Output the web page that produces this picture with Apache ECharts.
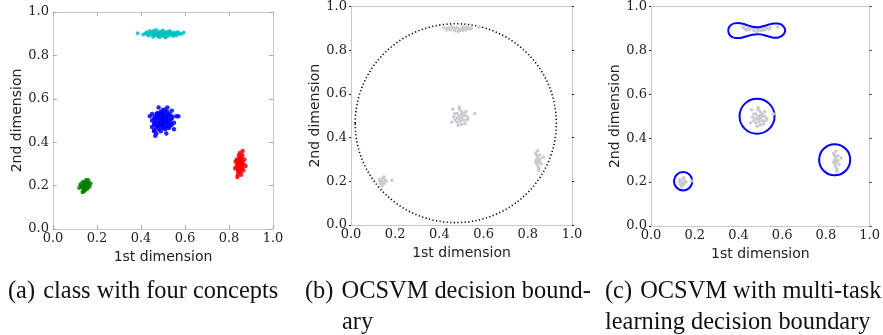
<!DOCTYPE html>
<html><head><meta charset="utf-8">
<script src="https://cdn.jsdelivr.net/npm/echarts@6/dist/echarts.min.js"></script>
<style>html,body{margin:0;padding:0;background:#fff}#c{width:883px;height:335px}</style>
</head><body><div id="c"></div>
<script>
// ---- data ----
const axisTicks = [0.0, 0.2, 0.4, 0.6, 0.8, 1.0];
const xTitle = '1st dimension';
const yTitle = '2nd dimension';
const captions = ['(a) \u200Aclass with four concepts', '(b) \u200AOCSVM decision bound-', 'ary', '(c) \u200AOCSVM with multi-task', 'learning decision boundary'];

const cyanPts = [[0.385,0.902],[0.41,0.896],[0.42,0.900],[0.43,0.897],[0.435,0.891],[0.44,0.903],[0.45,0.895],[0.45,0.906],[0.455,0.910],[0.46,0.899],[0.46,0.891],[0.465,0.902],[0.47,0.904],[0.47,0.896],[0.475,0.889],[0.48,0.909],[0.48,0.900],[0.48,0.892],[0.485,0.905],[0.49,0.903],[0.49,0.897],[0.49,0.888],[0.495,0.911],[0.50,0.906],[0.50,0.899],[0.50,0.893],[0.505,0.890],[0.51,0.902],[0.51,0.895],[0.515,0.907],[0.52,0.908],[0.52,0.899],[0.525,0.892],[0.53,0.903],[0.53,0.894],[0.535,0.909],[0.54,0.900],[0.545,0.897],[0.55,0.905],[0.55,0.896],[0.56,0.901],[0.565,0.908],[0.57,0.898],[0.575,0.903],[0.585,0.899],[0.595,0.906],
  [0.44,0.912],[0.46,0.914],[0.50,0.915],[0.53,0.913],[0.455,0.886],[0.485,0.884],[0.515,0.886],[0.545,0.889],[0.425,0.907],[0.56,0.892],[0.47,0.917],[0.51,0.883]];
const bluePts = [[0.50,0.50],[0.49,0.51],[0.51,0.49],[0.48,0.50],[0.52,0.51],[0.50,0.52],[0.49,0.48],[0.51,0.52],[0.47,0.49],[0.53,0.50],[0.50,0.47],[0.48,0.53],[0.52,0.48],[0.46,0.51],[0.54,0.52],[0.49,0.54],[0.51,0.46],[0.47,0.47],[0.53,0.47],[0.48,0.46],[0.52,0.54],[0.45,0.50],[0.55,0.49],[0.50,0.55],[0.46,0.48],[0.54,0.48],[0.47,0.53],[0.53,0.53],[0.49,0.45],[0.51,0.55],[0.46,0.45],[0.56,0.52],[0.44,0.52],[0.52,0.56],[0.48,0.56],[0.47,0.44],[0.55,0.46],[0.45,0.47],[0.50,0.53],[0.505,0.495],[0.495,0.505],[0.515,0.505],[0.485,0.495],[0.505,0.515],[0.495,0.485],[0.475,0.515],[0.525,0.495],[0.485,0.525],[0.515,0.475],[0.465,0.505],[0.535,0.505],[0.505,0.465],[0.495,0.535],[0.475,0.475],[0.525,0.525],[0.475,0.535],[0.525,0.465],[0.54,0.545],[0.46,0.455],[0.57,0.52],[0.45,0.53],[0.515,0.44],[0.465,0.43],
  [0.49,0.49],[0.51,0.51],[0.48,0.48],[0.52,0.52],[0.48,0.52],[0.52,0.49],[0.50,0.51],[0.50,0.485],[0.485,0.51],[0.515,0.49],[0.46,0.49],[0.54,0.51],[0.49,0.465],[0.51,0.535],[0.535,0.485],[0.465,0.52]];
const redPts = [[0.85,0.30],[0.845,0.31],[0.855,0.29],[0.84,0.30],[0.86,0.31],[0.85,0.32],[0.845,0.28],[0.855,0.33],[0.84,0.27],[0.86,0.28],[0.85,0.26],[0.845,0.34],[0.855,0.25],[0.835,0.32],[0.865,0.30],[0.85,0.35],[0.84,0.25],[0.86,0.34],[0.835,0.29],[0.865,0.27],[0.848,0.315],[0.852,0.285],[0.842,0.305],[0.858,0.295],[0.847,0.325],[0.853,0.275],[0.843,0.265],[0.857,0.335],[0.83,0.31],[0.87,0.32],[0.838,0.24],[0.862,0.36],[0.875,0.29],[0.828,0.28],
  [0.85,0.31],[0.85,0.29],[0.845,0.30],[0.855,0.305],[0.84,0.315],[0.86,0.295],[0.845,0.27],[0.855,0.32]];
const greenPts = [[0.145,0.20],[0.14,0.21],[0.15,0.19],[0.135,0.20],[0.155,0.21],[0.145,0.215],[0.14,0.185],[0.15,0.205],[0.13,0.195],[0.16,0.20],[0.145,0.18],[0.135,0.215],[0.155,0.185],[0.125,0.205],[0.165,0.195],[0.15,0.225],[0.14,0.175],[0.148,0.195],[0.142,0.205],[0.152,0.198],[0.138,0.192],[0.158,0.212],[0.12,0.19],[0.17,0.21],[0.135,0.17],[0.16,0.225],
  [0.145,0.19],[0.15,0.21],[0.14,0.20],[0.155,0.195]];

const grayPts = [[0.42,0.905],[0.43,0.898],[0.44,0.902],[0.45,0.894],[0.46,0.903],[0.47,0.897],[0.47,0.889],[0.48,0.904],[0.49,0.896],[0.49,0.890],[0.50,0.902],[0.51,0.897],[0.51,0.906],[0.52,0.893],[0.53,0.901],[0.54,0.897],[0.455,0.908],[0.485,0.886],[0.505,0.891],[0.525,0.905],[0.545,0.903],[0.435,0.893],[0.58,0.905],
  [0.46,0.53],[0.47,0.51],[0.48,0.49],[0.49,0.50],[0.50,0.52],[0.51,0.48],[0.52,0.50],[0.48,0.47],[0.50,0.46],[0.47,0.48],[0.49,0.53],[0.51,0.51],[0.53,0.49],[0.52,0.52],[0.50,0.49],[0.48,0.51],[0.495,0.475],[0.515,0.465],[0.465,0.495],[0.485,0.455],[0.49,0.54],[0.525,0.48],[0.56,0.51],[0.455,0.47],[0.50,0.505],[0.49,0.485],[0.51,0.50],
  [0.835,0.33],[0.845,0.31],[0.85,0.29],[0.84,0.28],[0.855,0.32],[0.845,0.27],[0.85,0.26],[0.84,0.30],[0.855,0.30],[0.835,0.29],[0.845,0.34],[0.86,0.28],[0.85,0.25],[0.84,0.32],[0.87,0.31],[0.845,0.295],
  [0.13,0.21],[0.14,0.20],[0.15,0.19],[0.145,0.215],[0.155,0.205],[0.135,0.19],[0.15,0.22],[0.14,0.18],[0.16,0.20],[0.13,0.20],[0.145,0.195],[0.185,0.205]];

// boundaries: [centre x, centre y, radius]
const ocsvmBoundary = [[0.474, 0.466, 0.455]];
const mtlCircles = [[0.147, 0.204, 0.042], [0.485, 0.500, 0.080], [0.840, 0.302, 0.071]];
const mtlPeanut = [[0.353,0.890],[0.356,0.904],[0.366,0.916],[0.382,0.923],[0.400,0.925],[0.420,0.921],[0.440,0.915],[0.460,0.909],[0.480,0.906],[0.500,0.907],[0.520,0.912],[0.540,0.918],[0.560,0.923],[0.578,0.923],[0.595,0.918],[0.607,0.907],[0.614,0.892],[0.609,0.877],[0.598,0.866],[0.582,0.859],[0.562,0.858],[0.542,0.862],[0.522,0.868],[0.502,0.873],[0.482,0.874],[0.462,0.871],[0.442,0.866],[0.422,0.860],[0.402,0.856],[0.384,0.857],[0.368,0.863],[0.357,0.875],[0.353,0.890]];

// ---- chart ----
const grids = [
  {left: 53, top: 12, width: 220, height: 217},
  {left: 351, top: 6, width: 221, height: 219},
  {left: 651, top: 6, width: 221, height: 220}
];
const tickFont = {fontFamily: '"DejaVu Serif", "Liberation Serif", serif', fontSize: 13, color: '#222'};
const nameFont = {fontFamily: '"DejaVu Sans", sans-serif', fontSize: 14, color: '#222'};
const fmt = v => v.toFixed(1);
const xAxes = [], yAxes = [];
grids.forEach((g, i) => {
  const inner = i === 0;
  const tickCol = inner ? '#aaa' : '#222';
  xAxes.push({gridIndex: i, type: 'value', min: axisTicks[0], max: axisTicks[axisTicks.length-1], interval: 0.2,
    name: xTitle, nameLocation: 'middle', nameGap: 21, nameTextStyle: nameFont,
    axisLine: {show: true, onZero: false, lineStyle: {color: '#c8c8c8', width: 1}},
    axisTick: {show: inner, inside: true, length: 4, lineStyle: {color: tickCol}},
    axisLabel: Object.assign({formatter: fmt, margin: 3}, tickFont), splitLine: {show: false}});
  xAxes.push({gridIndex: i, type: 'value', position: 'top', min: 0, max: 1, interval: 0.2,
    axisLine: {show: true, onZero: false, lineStyle: {color: '#c8c8c8', width: 1}},
    axisTick: {show: inner, inside: true, length: 4, lineStyle: {color: tickCol}},
    axisLabel: {show: false}, splitLine: {show: false}});
  yAxes.push({gridIndex: i, type: 'value', min: 0, max: 1, interval: 0.2,
    name: yTitle, nameLocation: 'middle', nameGap: 29, nameRotate: 90, nameTextStyle: nameFont,
    axisLine: {show: true, onZero: false, lineStyle: {color: '#c8c8c8', width: 1}},
    axisTick: {show: true, inside: inner, length: inner ? 4 : 2, lineStyle: {color: tickCol}},
    axisLabel: Object.assign({formatter: fmt, margin: 4}, tickFont), splitLine: {show: false}});
  yAxes.push({gridIndex: i, type: 'value', position: 'right', min: 0, max: 1, interval: 0.2,
    axisLine: {show: true, onZero: false, lineStyle: {color: '#c8c8c8', width: 1}},
    axisTick: {show: true, inside: inner, length: inner ? 4 : 2, lineStyle: {color: tickCol}},
    axisLabel: {show: false}, splitLine: {show: false}});
});

function scat(data, color, gi, size, op) {
  return {type: 'scatter', xAxisIndex: gi*2, yAxisIndex: gi*2, data: data, symbolSize: size,
    itemStyle: {color: color, opacity: op}, silent: true};
}
function ellipses(data, gi, style) {
  return {type: 'custom', xAxisIndex: gi*2, yAxisIndex: gi*2, data: data, silent: true, clip: false,
    encode: {x: 0, y: 1},
    renderItem: (params, api) => {
      const c = api.coord([api.value(0), api.value(1)]);
      const s = api.size([api.value(2), api.value(2)]);
      return {type: 'ellipse', shape: {cx: c[0], cy: c[1], rx: s[0], ry: s[1]}, style: Object.assign({fill: null}, style)};
    }};
}

const capStyle = {fontFamily: '"Liberation Serif", serif', fontSize: 24.4, fontWeight: 'normal', color: '#111'};
const capPos = [[8, 280], [305, 280], [342, 311], [605, 280], [605, 311]];
const titles = captions.map((t, i) => ({text: t, left: capPos[i][0], top: capPos[i][1], padding: 0, textStyle: capStyle}));

const option = {
  animation: false,
  title: titles,
  grid: grids,
  xAxis: xAxes,
  yAxis: yAxes,
  series: [
    scat(cyanPts, '#00bfbf', 0, 4, 0.8),
    scat(bluePts, '#0000ff', 0, 4.5, 0.85),
    scat(redPts, '#ff0000', 0, 4.5, 0.85),
    scat(greenPts, '#008000', 0, 4.5, 0.85),
    scat(grayPts, '#c8ccd0', 1, 3.5, 1),
    ellipses(ocsvmBoundary, 1, {stroke: '#000', lineWidth: 1.6, lineDash: [1.2, 2.4]}),
    scat(grayPts, '#c8ccd0', 2, 3.5, 1),
    ellipses(mtlCircles, 2, {stroke: '#0000ff', lineWidth: 2}),
    {type: 'line', xAxisIndex: 4, yAxisIndex: 4, data: mtlPeanut, showSymbol: false, symbol: 'none', smooth: 0.3,
      lineStyle: {color: '#0000ff', width: 2}, silent: true}
  ]
};
echarts.init(document.getElementById('c'), null, {renderer: 'canvas'}).setOption(option);
</script></body></html>
